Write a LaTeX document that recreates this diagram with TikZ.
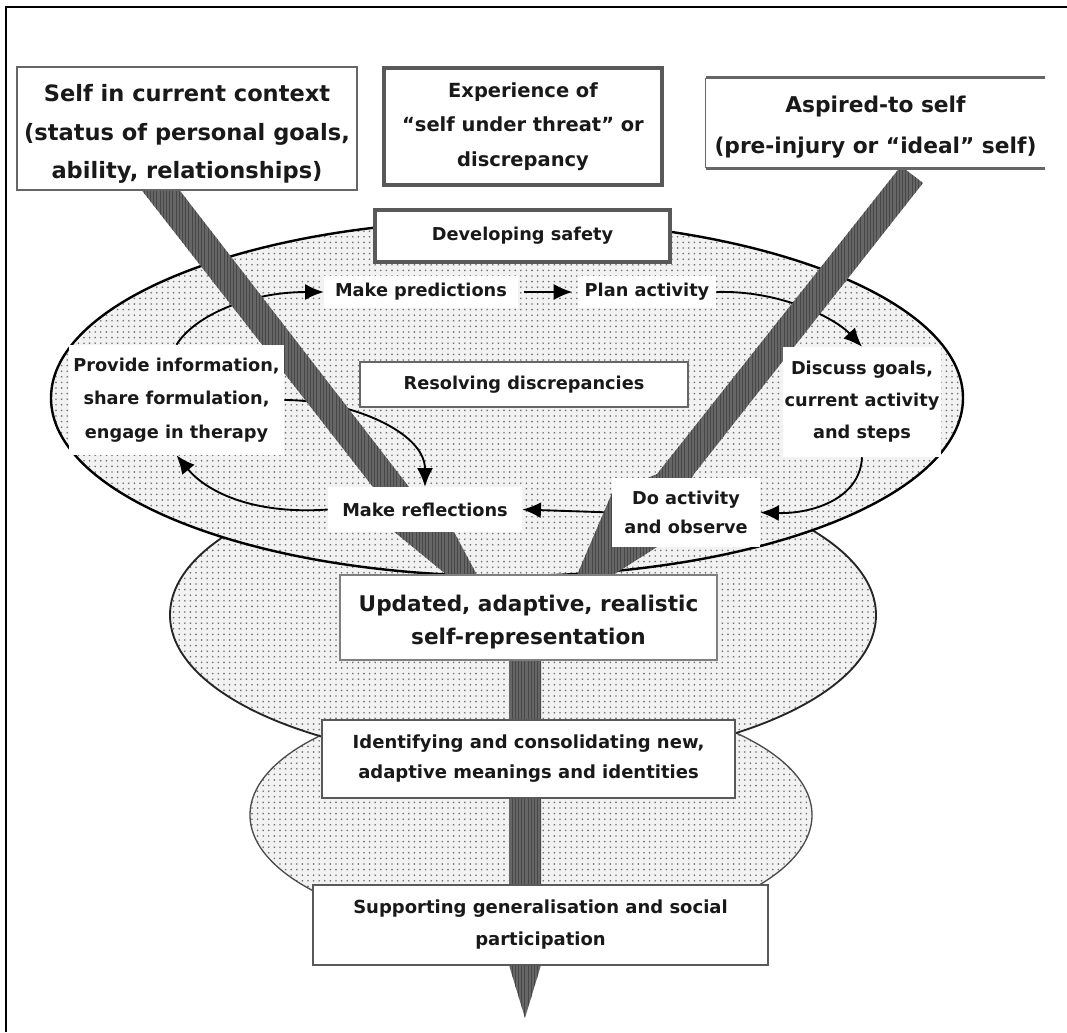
\documentclass[tikz,border=0pt]{standalone}
\usepackage{fontspec}
\setmainfont{DejaVu Sans}
\usetikzlibrary{arrows.meta,patterns.meta}
\pgfdeclarelayer{ellipses}
\pgfdeclarelayer{arrowlayer}
\pgfdeclarelayer{barlayer}
\pgfsetlayers{ellipses,arrowlayer,barlayer,main}
\begin{document}
\begin{tikzpicture}[x=0.75pt,y=-0.75pt,
  every node/.style={text=black!90},
  dotfill/.style={preaction={fill=black!5}, pattern={Dots[distance=4.2pt,radius=0.7pt]}, pattern color=black!55},
  barfill/.style={preaction={fill=black!60}, pattern={Lines[angle=90,distance=2.4pt,line width=0.5pt]}, pattern color=black!72},
  lbl/.style={fill=white, inner sep=1pt, align=center, font=\bfseries\fontsize{13.3}{24}\selectfont},
  boxa/.style={fill=white, inner sep=1pt, align=center, draw=black!60, line width=1.5pt},
  boxthick/.style={fill=white, inner sep=1pt, align=center, draw=black!65, line width=2.6pt},
  plain/.style={inner sep=0pt, align=center},
  arr/.style={-{Latex[length=14pt,width=12pt]}, line width=1.4pt, black}
]
\useasboundingbox (0,0) rectangle (1067,1032);

% ---------- boxes and labels ----------
\node[boxa, minimum width=255pt, minimum height=92.25pt] (b1) at (187,128.5) {};
\node[plain, font=\bfseries\fontsize{16.9}{29}\selectfont] (t1) at (187,134)
  {Self in current context\\(status of personal goals,\\ability, relationships)};
\node[boxthick, minimum width=208.5pt, minimum height=87.75pt, font=\bfseries\fontsize{14.6}{26}\selectfont] (b2) at (523,126.5)
  {Experience of\\“self under threat” or\\discrepancy};
\node[fill=white, inner sep=0pt, minimum width=254.25pt, minimum height=67.5pt] (b3) at (875.5,123) {};
\node[plain, font=\bfseries\fontsize{16.3}{30.5}\selectfont] (t3) at (875.5,127)
  {Aspired-to self\\(pre-injury or “ideal” self)};
\draw[black!60, line width=2pt] (b3.north east) -- (b3.north west);
\draw[black!60, line width=2pt] (b3.south west) -- (b3.south east);
\draw[black!60, line width=1pt] (b3.north west) -- (b3.south west);

\node[boxthick, minimum width=221.25pt, minimum height=39pt, font=\bfseries\fontsize{13.3}{24}\selectfont] (dev) at (522.5,236) {Developing safety};
\node[boxa, line width=2pt, minimum width=246pt, minimum height=33.75pt, font=\bfseries\fontsize{13.3}{24}\selectfont] (res) at (524,384.5) {Resolving discrepancies};

\node[lbl, minimum width=145.5pt, minimum height=24pt] (pred) at (421,292) {Make predictions};
\node[lbl, minimum width=103.5pt, minimum height=24pt] (plan) at (647,292) {Plan activity};
\node[lbl, minimum width=161.25pt, minimum height=82.5pt, font=\bfseries\fontsize{13.3}{25}\selectfont] (prov) at (176.5,400)
  {Provide information,\\share formulation,\\engage in therapy};
\node[lbl, minimum width=116.25pt, minimum height=82.5pt] (disc) at (862,402)
  {Discuss goals,\\current activity\\and steps};
\node[lbl, minimum width=111pt, minimum height=51.75pt, font=\bfseries\fontsize{13.3}{22}\selectfont] (doact) at (686,512.5)
  {Do activity\\and observe};
\node[lbl, minimum width=145.5pt, minimum height=33.75pt] (refl) at (425,509.5) {Make reflections};

\node[boxa, draw=black!50, line width=1pt, minimum width=282.75pt, minimum height=63.75pt] (upd) at (528.5,617.5) {};
\node[plain, font=\bfseries\fontsize{16.2}{25}\selectfont] (tu) at (528.5,622)
  {Updated, adaptive, realistic\\self-representation};
\node[boxthick, line width=2.2pt, minimum width=309.75pt, minimum height=58.5pt, font=\bfseries\fontsize{13.5}{22.5}\selectfont] (idn) at (528.5,759)
  {Identifying and consolidating new,\\adaptive meanings and identities};
\node[boxthick, line width=2.2pt, minimum width=341.25pt, minimum height=60pt, font=\bfseries\fontsize{13.5}{24}\selectfont] (sup) at (540.5,925)
  {Supporting generalisation and social\\participation};

% ---------- frame and ellipses ----------
\begin{pgfonlayer}{ellipses}
\fill[white] (0,0) rectangle (1067,1032);
\draw[line width=1.8pt] (6,1032) -- (6,7) -- (1067,7);
\path[dotfill, draw=black!70, line width=1pt] (531,815) ellipse [x radius=210.75pt, y radius=90pt];
\path[dotfill, draw=black!85, line width=1.4pt] (523,615) ellipse [x radius=264.75pt, y radius=111pt];
\path[dotfill, draw=black, line width=1.8pt] (507,398) ellipse [x radius=342pt, y radius=133.5pt];
\end{pgfonlayer}

% ---------- connectors ----------
\begin{pgfonlayer}{arrowlayer}
\draw[arr] (prov.north) .. controls (195,315) and (250,292) .. (pred.west);
\draw[arr, shorten <=4pt, shorten >=4pt] (pred.east) -- (plan.west);
\draw[arr] (plan.east) .. controls (780,290) and (835,318) .. (disc.north);
\draw[arr] (disc.south) .. controls (860,500) and (810,514) .. (doact.east);
\draw[arr] (doact.west) -- (refl.east);
\draw[arr] (refl.west) .. controls (250,515) and (205,490) .. (prov.south);
\draw[arr] (prov.east) .. controls (350,400) and (425,432) .. (refl.north);
\end{pgfonlayer}

% ---------- bars ----------
\begin{pgfonlayer}{barlayer}
\path[barfill] (126,170) -- (164,170) -- (416,496) -- (453,530) -- (477,575) -- (447,575) -- (392,530) -- (380,496) -- cycle;
\path[barfill] (901,166) -- (923,183) -- (694,474) -- (657,547) -- (613,575) -- (577,575) -- (612,493) -- (657,474) -- cycle;
\path[barfill] (509,610) -- (541,610) -- (541,965) -- (525,1018) -- (509,965) -- cycle;
\end{pgfonlayer}
\end{tikzpicture}
\end{document}
